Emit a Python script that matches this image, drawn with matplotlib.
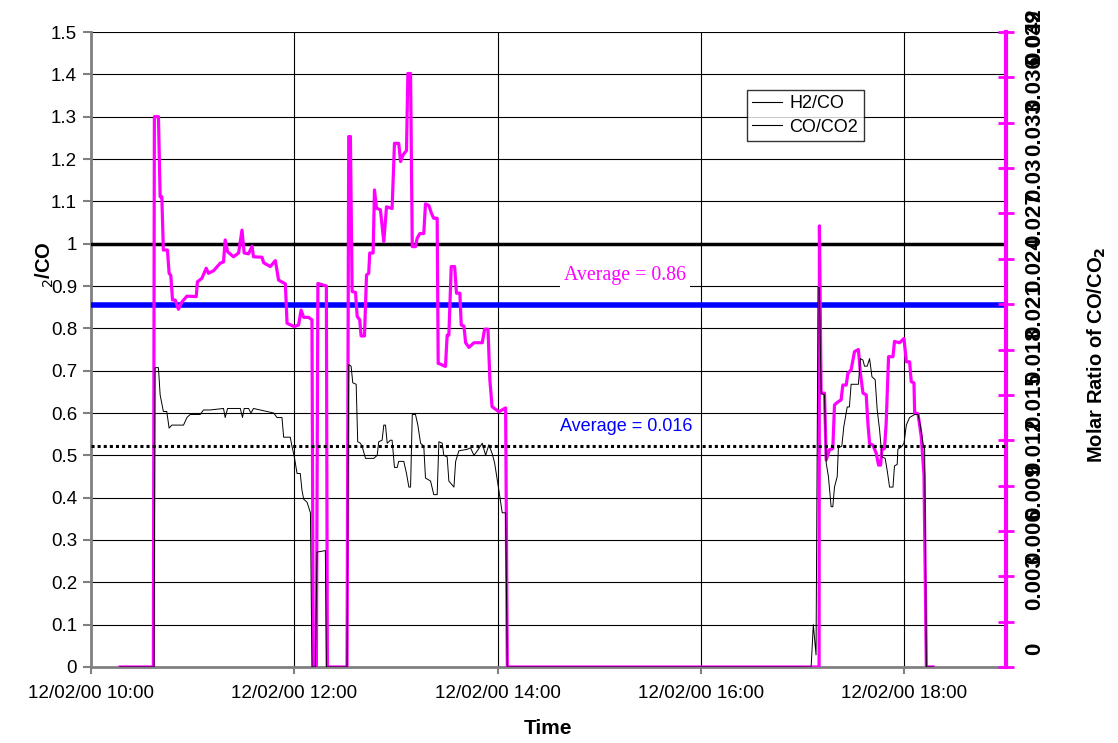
import numpy as np
import pandas as pd
import matplotlib
matplotlib.use('Agg')
import matplotlib.pyplot as plt
import matplotlib.dates as mdates
from matplotlib.lines import Line2D
from matplotlib.transforms import ScaledTranslation

plt.rcParams['font.family'] = ['Liberation Sans', 'DejaVu Sans']

# minutes after 12/02/00 10:00
h2co_min = [17.1, 36.8, 37.4, 39.8, 40.8, 41.8, 42.7, 45.1, 46.1, 47.1, 48.1, 49.7, 51.6, 53.6,
            56.6, 62.1, 62.8, 65.4, 68.0, 69.3, 72.3, 76.3, 78.2, 79.2, 80.6, 84.1, 87.1, 89.1,
            90.4, 93.0, 95.0, 95.9, 100.9, 101.9, 105.8, 108.8, 110.7, 114.7, 115.7, 120.0,
            122.5, 124.0, 125.5, 128.4, 130.4, 131.2, 133.0, 133.9, 138.9, 139.5, 151.1,
            152.1, 153.1, 154.1, 156.1, 157.1, 158.6, 159.4, 161.4, 162.6, 163.9, 164.5, 166.5,
            167.3, 168.5, 170.8, 172.8, 174.4, 177.7, 179.1, 181.6, 182.7, 184.2, 186.2, 187.0,
            188.6, 189.6, 191.5, 192.5, 194.1, 196.4, 197.4, 199.4, 200.8, 202.0, 202.3, 204.3,
            204.9, 205.3, 209.2, 210.2, 211.2, 212.6, 214.6, 215.7, 217.7, 218.5, 220.1, 221.1,
            223.0, 226.0, 230.9, 232.3, 234.3, 235.4, 236.7, 240.7, 244.7, 245.7,
            429.7, 429.9, 430.9, 432.9, 433.9, 435.8, 437.8, 438.8, 440.4, 442.7, 443.7, 445.7,
            446.7, 448.6, 450.6, 452.9, 454.1, 455.6, 457.5, 458.5, 459.5, 461.5, 463.4, 464.8,
            466.0, 466.8, 468.3, 469.3, 470.7, 473.3, 474.2, 477.2, 479.8, 481.2, 483.1, 484.1,
            485.7, 486.1, 488.1, 490.0, 491.6, 493.0, 497.1]
h2co_val = [0, 0, 1.30, 1.30, 1.111, 1.111, 0.985, 0.985, 0.93, 0.925, 0.867, 0.867, 0.845, 0.862,
            0.876, 0.875, 0.91, 0.918, 0.942, 0.93, 0.936, 0.954, 0.957, 1.009, 0.981, 0.969, 0.978, 1.032,
            0.978, 0.976, 0.994, 0.969, 0.968, 0.955, 0.946, 0.96, 0.914, 0.905, 0.812, 0.804,
            0.808, 0.843, 0.826, 0.826, 0.82, 0, 0, 0.906, 0.9, 0, 0,
            1.253, 1.253, 0.887, 0.885, 0.828, 0.82, 0.782, 0.782, 0.926, 0.93, 0.978, 0.978,
            1.127, 1.084, 1.08, 1.005, 1.087, 1.083, 1.237, 1.237, 1.194, 1.21, 1.22, 1.402,
            1.402, 0.993, 0.993, 1.013, 1.024, 1.024, 1.094, 1.09, 1.073, 1.062, 1.06, 1.06,
            0.717, 0.717, 0.71, 0.784, 0.784, 0.946, 0.946, 0.883, 0.883, 0.808, 0.805, 0.766,
            0.755, 0.766, 0.766, 0.798, 0.798, 0.678, 0.615, 0.603, 0.612, 0,
            0, 1.042, 0.647, 0.647, 0.489, 0.513, 0.516, 0.619, 0.625, 0.631, 0.666, 0.666,
            0.694, 0.702, 0.745, 0.750, 0.694, 0.647, 0.643, 0.576, 0.528, 0.524, 0.505, 0.477,
            0.477, 0.514, 0.516, 0.576, 0.733, 0.733, 0.769, 0.766, 0.776, 0.721, 0.721, 0.674,
            0.671, 0.601, 0.598, 0.544, 0.454, 0, 0]

coco2_min = [17.1, 37.2, 37.8, 39.8, 40.8, 42.7, 44.7, 46.1, 47.7, 50.7, 54.6, 56.6, 58.5, 64.4,
             66.4, 70.3, 78.2, 79.2, 80.6, 88.1, 89.4, 90.4, 93.0, 94.4, 95.9, 99.9, 103.9, 107.8,
             109.8, 112.7, 113.7, 117.6, 118.6, 120.0, 121.6, 123.5, 124.5, 125.5, 127.5, 129.5,
             130.4, 132.4, 133.4, 138.3, 138.9, 151.1, 152.1, 153.5, 154.5, 156.5, 157.4, 159.0,
             160.0, 162.0, 166.9, 168.9, 169.8, 171.8, 172.8, 173.8, 174.8, 176.7, 177.7, 179.1,
             180.7, 181.6, 184.6, 186.2, 187.6, 188.6, 189.6, 191.5, 192.9, 194.5, 196.4, 197.4,
             200.4, 202.3, 204.3, 205.3, 207.3, 208.2, 210.2, 211.2, 214.2, 215.2, 217.1, 222.1,
             224.0, 226.0, 228.0, 230.9, 232.9, 234.8, 236.8, 238.2, 240.7, 242.7, 244.7, 245.7,
             425.0, 426.3, 427.9, 429.1, 429.9, 430.9, 432.9, 433.9, 435.2, 436.8, 437.8, 438.8,
             440.4, 441.1, 443.1, 444.3, 446.3, 447.6, 448.6, 452.9, 454.1, 455.6, 456.5, 458.1,
             459.5, 460.9, 462.8, 464.0, 465.4, 466.8, 468.7, 469.9, 471.3, 473.3, 474.2, 475.8,
             476.2, 478.6, 479.8, 481.2, 483.1, 486.1, 488.1, 489.6, 491.0, 492.0, 493.0, 497.1]
coco2_val = [0, 0, 0.0198, 0.0198, 0.0180, 0.0169, 0.0169, 0.0158, 0.0160, 0.0160, 0.0160, 0.0165,
             0.0167, 0.0167, 0.0170, 0.0170, 0.0171, 0.0165, 0.0171, 0.0171, 0.0165, 0.0171, 0.0171,
             0.0168, 0.0171, 0.0170, 0.0169, 0.0168, 0.0165, 0.0165, 0.0152, 0.0152, 0.0146, 0.0139,
             0.0128, 0.0128, 0.0117, 0.0111, 0.0109, 0.0102, 0, 0, 0.0076, 0.0077, 0, 0,
             0.0200, 0.0199, 0.0188, 0.0187, 0.0149, 0.0148, 0.0146, 0.0138, 0.0138, 0.0140, 0.0149,
             0.0150, 0.0160, 0.0160, 0.0148, 0.0150, 0.0150, 0.0132, 0.0132, 0.0136, 0.0136, 0.0128,
             0.0119, 0.0119, 0.0167, 0.0167, 0.0160, 0.0148, 0.0146, 0.0125, 0.0123, 0.0114, 0.0114,
             0.0149, 0.0148, 0.0140, 0.0139, 0.0123, 0.0119, 0.0136, 0.0143, 0.0144, 0.0145, 0.0140,
             0.0143, 0.0148, 0.0140, 0.0147, 0.0141, 0.0135, 0.0117, 0.0102, 0.0102, 0,
             0, 0.0028, 0.0008, 0.0251, 0.0251, 0.0181, 0.0180, 0.0135, 0.0126, 0.0106, 0.0106,
             0.0119, 0.0126, 0.0145, 0.0146, 0.0159, 0.0172, 0.0172, 0.0187, 0.0187, 0.0204, 0.0203,
             0.0199, 0.0199, 0.0204, 0.0192, 0.0190, 0.0170, 0.0157, 0.0139, 0.0138, 0.0130, 0.0119,
             0.0119, 0.0133, 0.0134, 0.0144, 0.0146, 0.0148, 0.0160, 0.0165, 0.0167, 0.0167, 0.0159,
             0.0148, 0.0144, 0, 0]

h2co_ref = 1.0
h2co_avg = 0.855
coco2_avg = 0.01465
right_ticks = [0, 0.003, 0.006, 0.009, 0.012, 0.015, 0.018, 0.021, 0.024, 0.027, 0.03,
               0.033, 0.036, 0.039, 0.042]
right_labels = ['0', '0.003', '0.006', '0.009', '0.012', '0.015', '0.018', '0.021', '0.024',
                '0.027', '0.03', '0.033', '0.036', '0.039', '0.042']

start = pd.Timestamp('2000-12-02 10:00')
x1 = start + pd.to_timedelta(h2co_min, unit='m')
x2 = start + pd.to_timedelta(coco2_min, unit='m')

fig = plt.figure(figsize=(11.18, 7.43), dpi=100)
ax = fig.add_axes([0.0814, 0.1023, 0.8184, 0.8546])
ax2 = ax.twinx()

ax.set_xlim(start, start + pd.Timedelta(hours=9))
ax.set_ylim(0, 1.5)
ax.set_yticks(np.arange(0, 1.51, 0.1))
ax.set_yticklabels(['0'] + ['%.1f' % v for v in np.arange(0.1, 0.95, 0.1)] + ['1'] +
                   ['%.1f' % v for v in np.arange(1.1, 1.55, 0.1)], fontsize=13.5)
ax.set_xticks([start + pd.Timedelta(hours=h) for h in [0, 2, 4, 6, 8]])
ax.xaxis.set_major_formatter(mdates.DateFormatter('%m/%d/%y %H:%M'))
ax.tick_params(axis='x', labelsize=13.6, color='#808080', length=5, width=1.5, pad=8)
ax.tick_params(axis='y', color='#808080', length=6, width=1.5, pad=4)
ax.grid(True, color='black', lw=0.8)
ax.set_axisbelow(True)
for s in ['top', 'right']:
    ax.spines[s].set_visible(False)
ax.spines['left'].set_color('#808080')
ax.spines['left'].set_linewidth(2)
ax.spines['bottom'].set_color('#808080')
ax.spines['bottom'].set_linewidth(2)

ax.axhline(h2co_ref, color='black', lw=2.5, zorder=3)
ax.axhline(h2co_avg, color='#0000ff', lw=4, zorder=3)
ax.plot(x1, h2co_val, color='#ff00ff', lw=2.3, zorder=4)

ax2.set_ylim(0, 0.042)
ax2.axhline(coco2_avg, color='black', lw=2.2, ls=(0, (1, 1)), zorder=3)
ax2.plot(x2, coco2_val, color='black', lw=0.7, zorder=5)
ax2.set_yticks(right_ticks)
ax2.set_yticklabels([])
ax2.tick_params(axis='y', color='#ff00ff', direction='inout', length=12, width=2)
for s in ['top', 'left', 'bottom']:
    ax2.spines[s].set_visible(False)
ax2.spines['right'].set_color('#ff00ff')
ax2.spines['right'].set_linewidth(3)

# right axis labels sit just above their ticks, like the original spreadsheet chart
lab_trans = ax2.get_yaxis_transform() + ScaledTranslation(0, 0.12, fig.dpi_scale_trans)
for v, lab in zip(right_ticks[:-1], right_labels[:-1]):
    ax2.text(1.0317, v, lab, transform=lab_trans, rotation=90, ha='center', va='bottom',
             fontsize=16, fontweight='bold', clip_on=False)
fig.text(1035 / 1118, 1 - 8 / 743, right_labels[-1], rotation=90, ha='center', va='top',
         fontsize=16, fontweight='bold')

ax.text(start + pd.Timedelta(minutes=315), 0.926, 'Average = 0.86', color='#ff00ff', fontsize=14.3,
        family='Liberation Serif', ha='center', va='center', zorder=6,
        bbox=dict(facecolor='white', edgecolor='none', pad=3))
ax.text(start + pd.Timedelta(minutes=316), 0.567, 'Average = 0.016', color='#0000ff', fontsize=13,
        ha='center', va='center', zorder=6)

handles = [Line2D([], [], color='black', lw=0.8), Line2D([], [], color='black', lw=0.8)]
leg = ax2.legend(handles, ['H2/CO', 'CO/CO2'], loc='upper left',
                 bbox_to_anchor=(747 / 1118, 1 - 90 / 743), bbox_transform=fig.transFigure,
                 fontsize=13, frameon=True, fancybox=False, handlelength=1.65,
                 borderpad=0.3, labelspacing=0.35, handletextpad=0.4, borderaxespad=0)
leg.get_frame().set_edgecolor('black')
leg.get_frame().set_linewidth(1)

ax.set_xlabel('Time', fontsize=15, fontweight='bold', labelpad=12)
fig.text(45 / 1118, 1 - 265 / 743, r'$_2$/CO', rotation=90, fontsize=14.5, fontweight='bold',
         ha='center', va='center')
fig.text(1097 / 1118, 1 - 355 / 743, r'Molar Ratio of CO/CO$_\mathbf{2}$', rotation=90,
         fontsize=14.5, fontweight='bold', ha='center', va='center')

fig.savefig('out.png', dpi=100)
